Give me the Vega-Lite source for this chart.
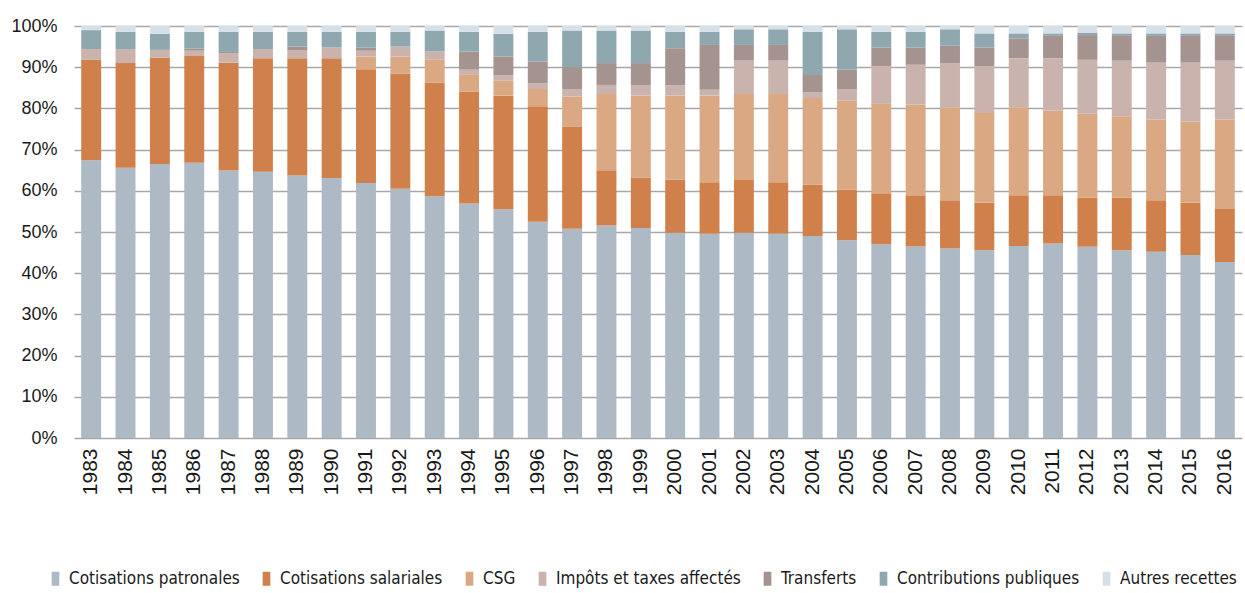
{
  "$schema": "https://vega.github.io/schema/vega-lite/v6.json",
  "width": 1168,
  "height": 412,
  "autosize": {"type": "none"},
  "padding": {"left": 74, "top": 26, "right": 3, "bottom": 155},
  "background": "white",
  "data": {"values": [
    {"year":"1983","Cotisations patronales":67.4,"Cotisations salariales":24.4,"CSG":0,"Impôts et taxes affectés":2.6,"Transferts":0,"Contributions publiques":4.6,"Autres recettes":1.0},
    {"year":"1984","Cotisations patronales":65.6,"Cotisations salariales":25.4,"CSG":0,"Impôts et taxes affectés":3.4,"Transferts":0,"Contributions publiques":4.2,"Autres recettes":1.4},
    {"year":"1985","Cotisations patronales":66.5,"Cotisations salariales":25.8,"CSG":0,"Impôts et taxes affectés":1.9,"Transferts":0,"Contributions publiques":3.9,"Autres recettes":1.9},
    {"year":"1986","Cotisations patronales":66.8,"Cotisations salariales":25.9,"CSG":0,"Impôts et taxes affectés":1.3,"Transferts":0.5,"Contributions publiques":4.1,"Autres recettes":1.4},
    {"year":"1987","Cotisations patronales":64.9,"Cotisations salariales":26.2,"CSG":0,"Impôts et taxes affectés":2.3,"Transferts":0.3,"Contributions publiques":4.9,"Autres recettes":1.4},
    {"year":"1988","Cotisations patronales":64.6,"Cotisations salariales":27.6,"CSG":0,"Impôts et taxes affectés":2.2,"Transferts":0,"Contributions publiques":4.2,"Autres recettes":1.4},
    {"year":"1989","Cotisations patronales":63.7,"Cotisations salariales":28.5,"CSG":0,"Impôts et taxes affectés":2.0,"Transferts":0.8,"Contributions publiques":3.6,"Autres recettes":1.4},
    {"year":"1990","Cotisations patronales":63.1,"Cotisations salariales":29.1,"CSG":0,"Impôts et taxes affectés":2.6,"Transferts":0,"Contributions publiques":3.8,"Autres recettes":1.4},
    {"year":"1991","Cotisations patronales":61.9,"Cotisations salariales":27.6,"CSG":3.1,"Impôts et taxes affectés":1.4,"Transferts":0.8,"Contributions publiques":3.8,"Autres recettes":1.4},
    {"year":"1992","Cotisations patronales":60.5,"Cotisations salariales":27.9,"CSG":4.2,"Impôts et taxes affectés":2.4,"Transferts":0,"Contributions publiques":3.6,"Autres recettes":1.4},
    {"year":"1993","Cotisations patronales":58.7,"Cotisations salariales":27.6,"CSG":5.5,"Impôts et taxes affectés":2.0,"Transferts":0,"Contributions publiques":5.1,"Autres recettes":1.1},
    {"year":"1994","Cotisations patronales":56.9,"Cotisations salariales":27.2,"CSG":4.2,"Impôts et taxes affectés":1.1,"Transferts":4.4,"Contributions publiques":4.8,"Autres recettes":1.4},
    {"year":"1995","Cotisations patronales":55.5,"Cotisations salariales":27.6,"CSG":3.7,"Impôts et taxes affectés":1.3,"Transferts":4.5,"Contributions publiques":5.5,"Autres recettes":1.9},
    {"year":"1996","Cotisations patronales":52.5,"Cotisations salariales":28.0,"CSG":4.2,"Impôts et taxes affectés":1.4,"Transferts":5.3,"Contributions publiques":7.2,"Autres recettes":1.4},
    {"year":"1997","Cotisations patronales":50.8,"Cotisations salariales":24.7,"CSG":7.4,"Impôts et taxes affectés":1.8,"Transferts":5.3,"Contributions publiques":8.9,"Autres recettes":1.1},
    {"year":"1998","Cotisations patronales":51.6,"Cotisations salariales":13.4,"CSG":18.5,"Impôts et taxes affectés":2.2,"Transferts":5.3,"Contributions publiques":7.9,"Autres recettes":1.1},
    {"year":"1999","Cotisations patronales":51.0,"Cotisations salariales":12.2,"CSG":19.9,"Impôts et taxes affectés":2.5,"Transferts":5.4,"Contributions publiques":7.9,"Autres recettes":1.1},
    {"year":"2000","Cotisations patronales":49.8,"Cotisations salariales":12.9,"CSG":20.4,"Impôts et taxes affectés":2.5,"Transferts":9.0,"Contributions publiques":4.0,"Autres recettes":1.4},
    {"year":"2001","Cotisations patronales":49.6,"Cotisations salariales":12.5,"CSG":21.0,"Impôts et taxes affectés":1.4,"Transferts":10.9,"Contributions publiques":3.2,"Autres recettes":1.4},
    {"year":"2002","Cotisations patronales":49.8,"Cotisations salariales":12.8,"CSG":20.9,"Impôts et taxes affectés":8.1,"Transferts":3.8,"Contributions publiques":3.8,"Autres recettes":0.8},
    {"year":"2003","Cotisations patronales":49.6,"Cotisations salariales":12.5,"CSG":21.4,"Impôts et taxes affectés":8.1,"Transferts":3.8,"Contributions publiques":3.8,"Autres recettes":0.8},
    {"year":"2004","Cotisations patronales":49.0,"Cotisations salariales":12.5,"CSG":21.0,"Impôts et taxes affectés":1.4,"Transferts":4.2,"Contributions publiques":10.5,"Autres recettes":1.4},
    {"year":"2005","Cotisations patronales":48.0,"Cotisations salariales":12.3,"CSG":21.6,"Impôts et taxes affectés":2.8,"Transferts":4.7,"Contributions publiques":9.8,"Autres recettes":0.8},
    {"year":"2006","Cotisations patronales":47.0,"Cotisations salariales":12.4,"CSG":21.7,"Impôts et taxes affectés":9.2,"Transferts":4.5,"Contributions publiques":3.8,"Autres recettes":1.4},
    {"year":"2007","Cotisations patronales":46.5,"Cotisations salariales":12.4,"CSG":22.0,"Impôts et taxes affectés":9.7,"Transferts":4.2,"Contributions publiques":3.8,"Autres recettes":1.4},
    {"year":"2008","Cotisations patronales":46.0,"Cotisations salariales":11.7,"CSG":22.6,"Impôts et taxes affectés":10.7,"Transferts":4.2,"Contributions publiques":4.0,"Autres recettes":0.8},
    {"year":"2009","Cotisations patronales":45.6,"Cotisations salariales":11.5,"CSG":21.8,"Impôts et taxes affectés":11.3,"Transferts":4.6,"Contributions publiques":3.4,"Autres recettes":1.8},
    {"year":"2010","Cotisations patronales":46.6,"Cotisations salariales":12.3,"CSG":21.4,"Impôts et taxes affectés":11.9,"Transferts":4.8,"Contributions publiques":1.2,"Autres recettes":1.8},
    {"year":"2011","Cotisations patronales":47.2,"Cotisations salariales":11.7,"CSG":20.6,"Impôts et taxes affectés":12.7,"Transferts":5.4,"Contributions publiques":0.6,"Autres recettes":1.8},
    {"year":"2012","Cotisations patronales":46.4,"Cotisations salariales":11.9,"CSG":20.4,"Impôts et taxes affectés":13.1,"Transferts":6.0,"Contributions publiques":0.6,"Autres recettes":1.6},
    {"year":"2013","Cotisations patronales":45.6,"Cotisations salariales":12.7,"CSG":19.8,"Impôts et taxes affectés":13.5,"Transferts":6.0,"Contributions publiques":0.6,"Autres recettes":1.8},
    {"year":"2014","Cotisations patronales":45.2,"Cotisations salariales":12.5,"CSG":19.6,"Impôts et taxes affectés":13.8,"Transferts":6.5,"Contributions publiques":0.6,"Autres recettes":1.8},
    {"year":"2015","Cotisations patronales":44.4,"Cotisations salariales":12.7,"CSG":19.7,"Impôts et taxes affectés":14.3,"Transferts":6.5,"Contributions publiques":0.6,"Autres recettes":1.8},
    {"year":"2016","Cotisations patronales":42.7,"Cotisations salariales":12.9,"CSG":21.7,"Impôts et taxes affectés":14.3,"Transferts":6.0,"Contributions publiques":0.6,"Autres recettes":1.8}
  ]},
  "transform": [
    {"fold": ["Cotisations patronales","Cotisations salariales","CSG","Impôts et taxes affectés","Transferts","Contributions publiques","Autres recettes"], "as": ["source","share"]},
    {"window": [{"op": "row_number", "as": "rank"}], "groupby": ["year"]}
  ],
  "mark": {"type": "bar"},
  "encoding": {
    "x": {
      "field": "year", "type": "ordinal",
      "scale": {"paddingInner": 0.42, "paddingOuter": 0.21},
      "axis": {
        "title": null, "labelAngle": -90, "labelAlign": "right", "labelBaseline": "middle",
        "labelFont": "Liberation Sans", "labelFontSize": 21, "labelColor": "#1a1a1a",
        "labelPadding": 10, "ticks": false, "domain": false, "grid": false
      }
    },
    "y": {
      "field": "share", "type": "quantitative", "stack": "normalize",
      "scale": {"domain": [0, 1], "nice": false},
      "axis": {
        "title": null, "format": ".0%", "values": [0,0.1,0.2,0.3,0.4,0.5,0.6,0.7,0.8,0.9,1],
        "labelFont": "Liberation Sans", "labelFontSize": 18, "labelColor": "#1a1a1a",
        "labelPadding": 17, "ticks": false, "domain": false,
        "grid": true, "gridColor": "#a8a8a8", "gridWidth": 1.6
      }
    },
    "color": {
      "field": "source", "type": "nominal",
      "sort": ["Cotisations patronales","Cotisations salariales","CSG","Impôts et taxes affectés","Transferts","Contributions publiques","Autres recettes"],
      "scale": {
        "domain": ["Cotisations patronales","Cotisations salariales","CSG","Impôts et taxes affectés","Transferts","Contributions publiques","Autres recettes"],
        "range": ["#adb9c5","#d0804a","#daa883","#c9b3ac","#a4938e","#8fa8b0","#d6e0e9"]
      },
      "legend": {
        "title": null, "orient": "none", "direction": "horizontal", "columns": 7,
        "legendX": -27, "legendY": 544,
        "symbolType": "M-0.55,-1L0.55,-1L0.55,1L-0.55,1Z", "symbolSize": 196, "symbolStrokeWidth": 0,
        "labelFont": "DejaVu Sans Condensed, Liberation Sans Narrow, sans-serif", "labelFontSize": 17,
        "labelColor": "#1a1a1a", "labelOffset": 5, "columnPadding": 18, "labelLimit": 400
      }
    },
    "order": {"field": "rank", "type": "quantitative", "sort": "ascending"}
  },
  "config": {"view": {"stroke": null}}
}
